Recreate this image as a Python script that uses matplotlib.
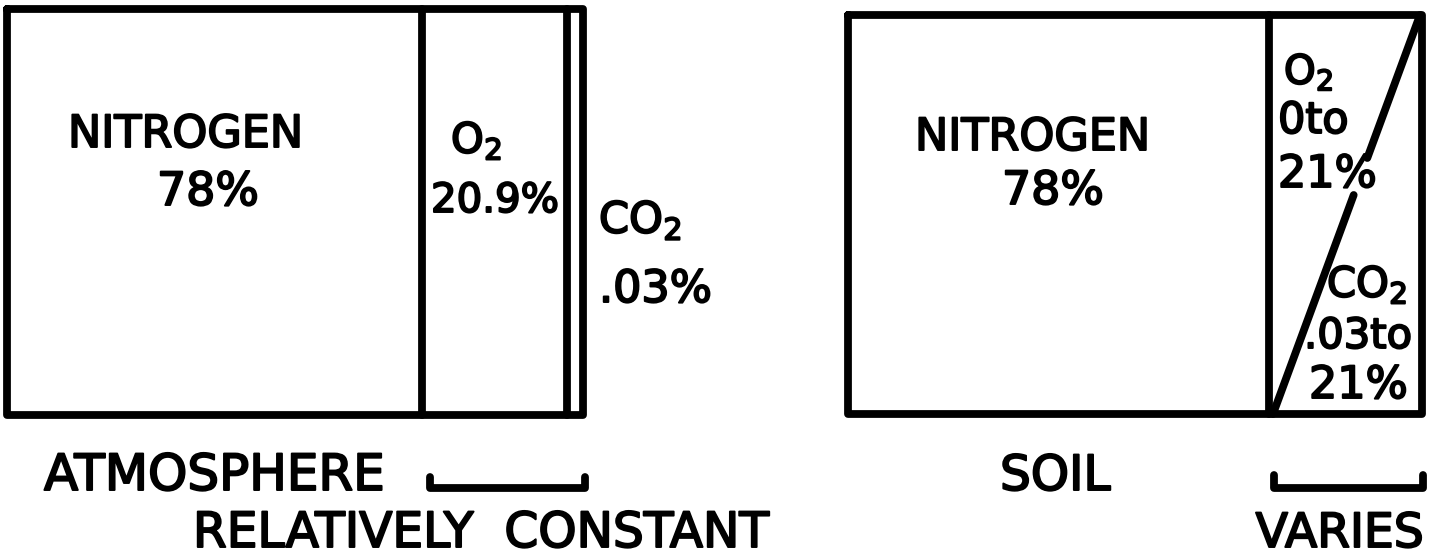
import matplotlib
matplotlib.use("Agg")
import matplotlib.pyplot as plt
import matplotlib.patheffects as pe

# ---- data (labels of the diagram) ----
gases = ["NITROGEN", r"$\mathregular{O_2}$", r"$\mathregular{CO_2}$"]
atmos_pct = ["78%", "20.9%", ".03%"]
soil_pct = ["78%", "0to\n21%", ".03to\n21%"]
panel_titles = ["ATMOSPHERE", "SOIL"]
bracket_labels = ["RELATIVELY  CONSTANT", "VARIES"]

W, H = 1436, 559
fig = plt.figure(figsize=(W / 100, H / 100), dpi=100)
ax = fig.add_axes([0, 0, 1, 1])
ax.set_xlim(0, W)
ax.set_ylim(H, 0)
ax.axis("off")

LW = 5.6
line_kw = dict(color="black", lw=LW, solid_joinstyle="round", solid_capstyle="round")
fx = [pe.withStroke(linewidth=1.4, foreground="black")]
FONT = "DejaVu Sans"


def txt(x, y, s, size, ha="left", va="baseline"):
    ax.text(x, y, s, fontsize=size, ha=ha, va=va, family=FONT, color="black",
            path_effects=fx)


# ---- left box: atmosphere ----
L0, L1, T0, B0 = 7, 583, 9, 415
ax.plot([L0, L1, L1, L0, L0], [T0, T0, B0, B0, T0], **line_kw)
ax.plot([422, 422], [T0, B0], **line_kw)
ax.plot([567, 567], [T0, B0], **line_kw)

txt(68, 147, gases[0], 32)
txt(157, 205, atmos_pct[0], 33)
txt(451, 153, gases[1], 30)
txt(431, 212, atmos_pct[1], 29)
txt(599, 233, gases[2], 31)
txt(599, 302, atmos_pct[2], 32)

# ---- right box: soil ----
R0, R1, T1, B1 = 848, 1422, 15, 414
ax.plot([R0, R1, R1, R0, R0], [T1, T1, B1, B1, T1], **line_kw)
ax.plot([1269, 1269], [T1, B1], **line_kw)

# diagonal divider, interrupted where the upper "21%" sits
d_x0, d_y0, d_x1, d_y1 = 1273, B1, 1420, T1
gap_top, gap_bot = 158, 195


def diag_x(y):
    return d_x0 + (d_y0 - y) * (d_x1 - d_x0) / (d_y0 - d_y1)


ax.plot([diag_x(gap_top), d_x1], [gap_top, d_y1], **line_kw)
ax.plot([d_x0, diag_x(gap_bot)], [d_y0, gap_bot], **line_kw)

o2_lines = soil_pct[1].split("\n")
co2_lines = soil_pct[2].split("\n")
txt(915, 150, gases[0], 32)
txt(1002, 204, soil_pct[0], 33)
txt(1284, 84, gases[1], 29)
txt(1278, 133, o2_lines[0], 31)
txt(1278, 187, o2_lines[1], 32)
txt(1327, 297, gases[2], 30)
txt(1304, 348, co2_lines[0], 30)
txt(1309, 398, co2_lines[1], 32)

# ---- bottom labels and brackets ----
txt(44, 490, panel_titles[0], 36)
txt(1000, 490, panel_titles[1], 35)
ax.plot([430, 430, 585, 585], [477, 488, 488, 477], **line_kw)
ax.plot([1274, 1274, 1423, 1423], [475, 488, 488, 475], **line_kw)
txt(193, 547, bracket_labels[0], 35)
txt(1424, 547, bracket_labels[1], 34, ha="right")

fig.savefig("out.png", dpi=100, facecolor="white")
